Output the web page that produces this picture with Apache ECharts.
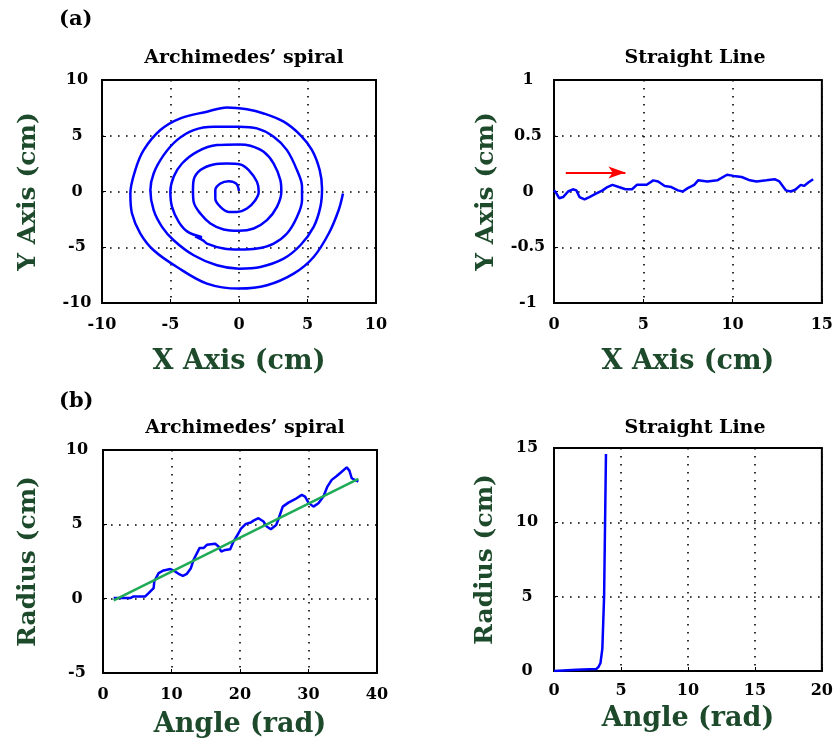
<!DOCTYPE html>
<html>
<head>
<meta charset="utf-8">
<script src="https://cdn.jsdelivr.net/npm/echarts@6/dist/echarts.min.js"></script>
<style>
  html, body { margin: 0; padding: 0; background: #fff; }
  #main { width: 836px; height: 741px; }
</style>
</head>
<body>
<div id="main"></div>
<script>
// (a) left: spiral traced in x/y (cm)
var spiralX = [0.0, -0.2, -0.75, -1.36, -1.73, -1.73, -1.36, -0.75, -0.15, 0.58, 1.19, 1.44, 1.31, 0.71, 0.1,
  -0.88, -1.85, -2.82, -3.31, -3.36, -3.31, -2.82, -2.09, -1.12, 0, 1.07, 2.04, 2.77, 3.09, 3.02, 2.53, 1.8, 0.83, 0,
  -1.61, -3.07, -4.16, -4.77, -5.01, -4.89, -4.4, -3.76, -2.7, -3.2, -2.6, -2.34, -1.12, 0, 1.31, 2.53, 3.5, 4.23, 4.6, 4.6,
  4.23, 3.5, 2.53, 1.31, 0, -1.85, -3.31, -4.53, -5.5, -6.23, -6.47, -6.23, -5.62, -4.77, -3.31, -1.61, 0, 1.56,
  3.26, 4.48, 5.45, 5.94, 6.06, 5.89, 5.33, 4.48, 3.26, 1.8, 0.58, -0.88, -2.34, -4.28, -5.74, -6.96, -7.57, -7.93,
  -7.81, -7.2, -6.23, -4.53, -2.34, 0, 2.04, 3.99, 5.45, 6.55, 7.27, 7.59]
var spiralY = [0.05, 0.7, 0.93, 0.72, 0.12, -0.63, -1.38, -1.83, -1.83, -1.53, -0.78, -0.03, 0.87, 1.92, 2.43,
  2.51, 2.43, 1.92, 1.02, 0.12, -0.93, -1.98, -2.87, -3.41, -3.53, -3.32, -2.57, -1.38, -0.03, 1.02, 2.51, 3.56, 4.1, 4.22,
  4.16, 3.56, 2.51, 1.32, -0.03, -1.38, -2.72, -3.6, -4.1, -4.05, -4.4, -4.67, -5.12, -5.21, -5.12, -4.67, -3.77, -2.28, -0.78, 0.42,
  1.92, 3.71, 4.91, 5.66, 5.81, 5.81, 5.51, 4.61, 3.26, 1.62, 0.12, -1.68, -3.17, -4.37, -5.72, -6.62, -6.92, -6.77,
  -6.02, -4.82, -3.17, -1.38, 0.27, 1.92, 3.71, 5.06, 6.26, 7.0, 7.37, 7.54, 7.16, 6.56, 5.51, 3.71, 1.92, -0.18,
  -1.98, -3.77, -5.27, -6.77, -8.26, -8.71, -8.41, -7.37, -5.87, -3.77, -1.68, -0.18]

// (a) right: straight line
var lineX = [0, 0.11, 0.29, 0.51, 0.79, 1.06, 1.25, 1.43, 1.71, 1.98, 2.35, 2.72, 2.99, 3.27, 3.63, 4.0, 4.37, 4.64,
  5.19, 5.56, 5.83, 6.2, 6.57, 6.94, 7.21, 7.49, 7.85, 8.07, 8.59, 9.14, 9.69, 10.06, 10.51, 10.97, 11.34, 11.89,
  12.35, 12.62, 12.99, 13.27, 13.54, 13.82, 14.0, 14.24, 14.51]
var lineY = [0.01, -0.01, -0.06, -0.05, 0.0, 0.02, 0.01, -0.05, -0.07, -0.05, -0.02, 0.01, 0.04, 0.06, 0.04, 0.02, 0.02, 0.06,
  0.06, 0.1, 0.09, 0.05, 0.04, 0.01, 0.0, 0.03, 0.06, 0.1, 0.09, 0.1, 0.15, 0.14, 0.13, 0.1, 0.09, 0.1,
  0.11, 0.09, 0.01, 0.0, 0.02, 0.06, 0.05, 0.08, 0.11]
var arrowX = [0.66, 4.0]
var arrowY = [0.17, 0.17]

// (b) left: radius vs angle, with linear fit
var spiralAngle = [1.56, 3.99, 4.47, 6.17, 6.66, 7.39, 7.49, 8.12, 8.85, 9.82, 10.3, 11.03, 11.66, 12.25, 12.83, 13.22,
  14.09, 14.68, 15.16, 16.38, 16.87, 17.25, 17.84, 18.57, 19.05, 19.78, 20.12, 20.85, 21.58, 21.97, 22.7, 23.43, 23.91,
  24.5, 25.28, 25.61, 26.24, 27.07, 28.04, 29.02, 29.5, 29.99, 30.72, 31.45, 32.18, 32.76, 33.39, 34.12, 34.85, 35.58,
  35.97, 36.31, 37.28]
var spiralRadius = [0.04, 0.04, 0.15, 0.15, 0.37, 0.71, 1.16, 1.72, 1.9, 1.99, 1.9, 1.67, 1.54, 1.67, 2.05, 2.61,
  3.4, 3.4, 3.62, 3.69, 3.51, 3.17, 3.28, 3.33, 3.84, 4.4, 4.69, 5.03, 5.12, 5.25, 5.41, 5.19, 4.85,
  4.67, 4.96, 5.34, 6.19, 6.46, 6.69, 6.98, 6.87, 6.46, 6.19, 6.42, 6.87, 7.54, 7.99, 8.25, 8.54, 8.83,
  8.61, 8.1, 7.88]
var fitAngle = [1.56, 37.28]
var fitRadius = [-0.12, 8.05]

// (b) right: radius vs angle for the straight line
var lineAngle = [0, 1.68, 3.15, 3.32, 3.47, 3.61, 3.61, 3.71, 3.74, 3.81, 3.88]
var lineRadius = [0, 0.09, 0.13, 0.27, 0.54, 0.65, 1.5, 1.55, 5.0, 5.07, 14.6]

function pairs (xs, ys) {
  return xs.map(function (x, i) { return [x, ys[i]] })
}

var serif = 'DejaVu Serif'
var green = '#1e4a2c'

function xAxisOf (gi, min, max, interval, name, gap, margin) {
  return {
    type: 'value', gridIndex: gi, min: min, max: max, interval: interval,
    name: name, nameLocation: 'middle', nameGap: gap,
    nameTextStyle: { fontFamily: serif, fontWeight: 'bold', fontSize: 27, color: green },
    axisLine: { show: true, onZero: false, lineStyle: { color: '#000', width: 2 } },
    axisTick: { show: true, inside: true, length: 4, lineStyle: { color: '#000' } },
    axisLabel: { fontFamily: serif, fontWeight: 'bold', fontSize: 16, color: '#000', margin: margin },
    splitLine: { show: true, lineStyle: { color: '#000', width: 1.6, type: [1.6, 6.4] } }
  }
}

function yAxisOf (gi, min, max, interval, name, gap, margin) {
  return {
    type: 'value', gridIndex: gi, min: min, max: max, interval: interval,
    name: name, nameLocation: 'middle', nameGap: gap,
    nameTextStyle: { fontFamily: serif, fontWeight: 'bold', fontSize: 25, color: green },
    axisLine: { show: true, onZero: false, lineStyle: { color: '#000', width: 2 } },
    axisTick: { show: true, inside: true, length: 4, lineStyle: { color: '#000' } },
    axisLabel: { fontFamily: serif, fontWeight: 'bold', fontSize: 16, color: '#000', margin: margin, align: 'center' },
    splitLine: { show: true, lineStyle: { color: '#000', width: 1.6, type: [1.6, 6.4] } }
  }
}

function titleOf (text, cx, top, size) {
  return {
    text: text, left: cx, top: top, textAlign: 'center',
    textStyle: { fontFamily: serif, fontWeight: 'bold', fontSize: size || 19, color: '#000' }
  }
}

var box = { show: true, borderColor: '#000', borderWidth: 2, backgroundColor: 'transparent' }

var myChart = echarts.init(document.getElementById('main'))
var option = {
  animation: false,
  title: [
    { text: '(a)', left: 54, top: 4, textStyle: { fontFamily: serif, fontWeight: 'bold', fontSize: 21, color: '#000' } },
    { text: '(b)', left: 54, top: 386, textStyle: { fontFamily: serif, fontWeight: 'bold', fontSize: 21, color: '#000' } },
    titleOf('Archimedes’ spiral', 239, 44),
    titleOf('Straight Line', 690, 44),
    titleOf('Archimedes’ spiral', 240, 414),
    titleOf('Straight Line', 690, 414)
  ],
  grid: [
    Object.assign({ left: 102, top: 80, width: 274, height: 223 }, box),
    Object.assign({ left: 554, top: 80, width: 273, height: 223 }, box),
    Object.assign({ left: 103, top: 450, width: 274, height: 223 }, box),
    Object.assign({ left: 554, top: 448, width: 273, height: 223 }, box)
  ],
  xAxis: [
    xAxisOf(0, -10, 10, 5, 'X Axis (cm)', 45, 14),
    xAxisOf(1, 0, 15, 5, 'X Axis (cm)', 45, 14),
    xAxisOf(2, 0, 40, 10, 'Angle (rad)', 38, 14),
    xAxisOf(3, 0, 20, 5, 'Angle (rad)', 34, 12)
  ],
  yAxis: [
    yAxisOf(0, -10, 10, 5, 'Y Axis (cm)', 61, 25),
    yAxisOf(1, -1, 1, 0.5, 'Y Axis (cm)', 55, 26),
    yAxisOf(2, -5, 10, 5, 'Radius (cm)', 62, 26),
    yAxisOf(3, 0, 15, 5, 'Radius (cm)', 56, 27)
  ],
  series: [
    {
      type: 'line', xAxisIndex: 0, yAxisIndex: 0, showSymbol: false, smooth: 0.35,
      lineStyle: { color: '#0000ff', width: 2.5 },
      data: pairs(spiralX, spiralY)
    },
    {
      type: 'line', xAxisIndex: 1, yAxisIndex: 1, showSymbol: false,
      lineStyle: { color: '#0000ff', width: 2.5 },
      data: pairs(lineX, lineY)
    },
    {
      // red arrow showing the drawing direction
      type: 'line', xAxisIndex: 1, yAxisIndex: 1, showSymbol: false,
      lineStyle: { opacity: 0 },
      data: pairs(arrowX, arrowY),
      markLine: {
        silent: true,
        symbol: ['none', 'arrow'],
        symbolSize: [9, 17],
        label: { show: false },
        lineStyle: { color: '#ff0000', width: 2, type: 'solid' },
        data: [[{ coord: [arrowX[0], arrowY[0]] }, { coord: [arrowX[1], arrowY[1]] }]]
      }
    },
    {
      type: 'line', xAxisIndex: 2, yAxisIndex: 2, showSymbol: false,
      lineStyle: { color: '#0000ff', width: 2.5 },
      data: pairs(spiralAngle, spiralRadius)
    },
    {
      type: 'line', xAxisIndex: 2, yAxisIndex: 2, showSymbol: false,
      lineStyle: { color: '#1faa55', width: 2.5 },
      data: pairs(fitAngle, fitRadius)
    },
    {
      type: 'line', xAxisIndex: 3, yAxisIndex: 3, showSymbol: false,
      lineStyle: { color: '#0000ff', width: 2.5 },
      data: pairs(lineAngle, lineRadius)
    }
  ]
}
myChart.setOption(option)
</script>
</body>
</html>
